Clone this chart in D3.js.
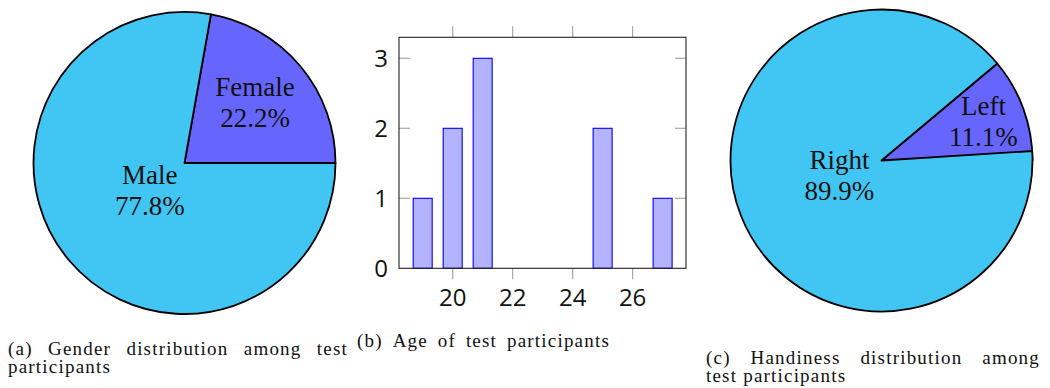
<!DOCTYPE html>
<html>
<head>
<meta charset="UTF-8">
<script src="https://d3js.org/d3.v7.min.js"></script>
</head>
<body style="margin:0">
<svg id="chart" width="1050" height="388"></svg>
<script>
// gender pie (percent)
const genderLabels = ["Female", "Male"];
const genderValues = [22.2, 77.8];
// handedness pie (percent, as printed; sums to 101)
const handLabels = ["Left", "Right"];
const handValues = [11.1, 89.9];
// age histogram
const ages = [19, 20, 21, 25, 27];
const ageCounts = [1, 2, 3, 2, 1];
const xTicks = [20, 22, 24, 26];
const yTicks = [0, 1, 2, 3];
const pieColors = ["#6666ff", "#41c6f3"];

const SERIF = "'Liberation Serif', 'Times New Roman', serif";
const SANS = "'Open Sans', sans-serif";
const svg = d3.select("#chart");

function serifText(sel, size) {
    return sel.style("font-family", SERIF).style("font-size", size + "px").attr("fill", "#111");
}

// pgf-pie style: slices go counter-clockwise from east, angle = value% of 360
function drawPie(cx, cy, r, labels, values) {
    const g = svg.append("g").attr("transform", `translate(${cx},${cy})`);
    let acc = 0;
    const slices = values.map((v, i) => {
        const a0 = acc / 100 * 2 * Math.PI;
        acc += v;
        const a1 = acc / 100 * 2 * Math.PI;
        return { label: labels[i], value: v, a0, a1, color: pieColors[i] };
    });
    const arc = d3.arc().innerRadius(0).outerRadius(r);
    g.selectAll("path.slice")
        .data(slices)
        .join("path")
        .attr("class", "slice")
        .attr("d", d => arc({ startAngle: Math.PI / 2 - d.a1, endAngle: Math.PI / 2 - d.a0 }))
        .attr("fill", d => d.color)
        .attr("stroke", "#000")
        .attr("stroke-width", 1.8)
        .attr("stroke-linejoin", "round");

    slices.forEach(d => {
        const spanDeg = (d.a1 - d.a0) * 180 / Math.PI;
        const inner = Math.max(Math.min((spanDeg - 10) / 110 * -0.3, 0), -0.5) + 0.8;
        const mid = (d.a0 + d.a1) / 2;
        const lx = Math.cos(mid) * inner * r;
        const ly = -Math.sin(mid) * inner * r;
        serifText(g.append("text"), 27)
            .attr("text-anchor", "middle")
            .attr("x", lx).attr("y", ly - 8)
            .text(d.label);
        serifText(g.append("text"), 27)
            .attr("text-anchor", "middle")
            .attr("x", lx).attr("y", ly + 23)
            .text(d.value.toFixed(1) + "%");
    });
}

drawPie(184.5, 163, 151, genderLabels, genderValues);
drawPie(881.5, 160.5, 151, handLabels, handValues);

// --- age bar chart ---
const plotL = 399, plotR = 686, plotT = 37.3, plotB = 268.3;
const x = d3.scaleLinear().domain([18.21, 27.78]).range([plotL, plotR]);
const y = d3.scaleLinear().domain([0, 3.3]).range([plotB, plotT]);
const barW = 19;
const bc = svg.append("g");

// ticks (grey): x outside top/bottom, y inside left/right
const tickCol = "#a8a8a8";
bc.append("g").selectAll("line")
    .data(xTicks).join("line")
    .attr("x1", d => x(d)).attr("x2", d => x(d))
    .attr("y1", plotB).attr("y2", plotB + 11)
    .attr("stroke", tickCol).attr("stroke-width", 1.2);
bc.append("g").selectAll("line")
    .data(xTicks).join("line")
    .attr("x1", d => x(d)).attr("x2", d => x(d))
    .attr("y1", plotT).attr("y2", plotT - 11)
    .attr("stroke", tickCol).attr("stroke-width", 1.2);
bc.append("g").selectAll("line")
    .data(yTicks.slice(1)).join("line")
    .attr("x1", plotL).attr("x2", plotL + 11)
    .attr("y1", d => y(d)).attr("y2", d => y(d))
    .attr("stroke", tickCol).attr("stroke-width", 1.2);
bc.append("g").selectAll("line")
    .data(yTicks.slice(1)).join("line")
    .attr("x1", plotR).attr("x2", plotR - 11)
    .attr("y1", d => y(d)).attr("y2", d => y(d))
    .attr("stroke", tickCol).attr("stroke-width", 1.2);

bc.append("g").selectAll("rect")
    .data(ages).join("rect")
    .attr("x", d => x(d) - barW / 2)
    .attr("width", barW)
    .attr("y", (d, i) => y(ageCounts[i]))
    .attr("height", (d, i) => y(0) - y(ageCounts[i]))
    .attr("fill", "#b3b3ff")
    .attr("stroke", "#0000ff")
    .attr("stroke-width", 1.1);

bc.append("rect")
    .attr("x", plotL).attr("y", plotT)
    .attr("width", plotR - plotL).attr("height", plotB - plotT)
    .attr("fill", "none").attr("stroke", "#222").attr("stroke-width", 1.1);

bc.append("g").selectAll("text")
    .data(xTicks).join("text")
    .style("font-family", SANS).style("font-size", "24px").attr("fill", "#111")
    .attr("x", d => x(d)).attr("y", 306)
    .attr("text-anchor", "middle")
    .text(d => d);
bc.append("g").selectAll("text")
    .data(yTicks).join("text")
    .style("font-family", SANS).style("font-size", "24px").attr("fill", "#111")
    .attr("x", plotL - 11).attr("y", d => y(d) + 9)
    .attr("text-anchor", "end")
    .text(d => d);

// --- captions (justified like LaTeX subcaptions) ---
function captionLine(text, x0, yb, width) {
    const words = text.split(" ");
    const g = svg.append("g");
    const nodes = words.map(w => serifText(g.append("text"), 19)
        .style("letter-spacing", "1.2px")
        .attr("y", yb).text(w));
    const widths = nodes.map(n => n.node().getComputedTextLength());
    const total = d3.sum(widths);
    const gap = width && words.length > 1 ? (width - total) / (words.length - 1) : 6;
    let cx = x0;
    nodes.forEach((n, i) => { n.attr("x", cx); cx += widths[i] + gap; });
}

captionLine("(a) Gender distribution among test", 8, 355, 340);
captionLine("participants", 8, 373);
captionLine("(b) Age of test participants", 357, 347, 253);
captionLine("(c) Handiness distribution among", 706, 364, 334);
captionLine("test participants", 706, 382);
</script>
</body>
</html>
